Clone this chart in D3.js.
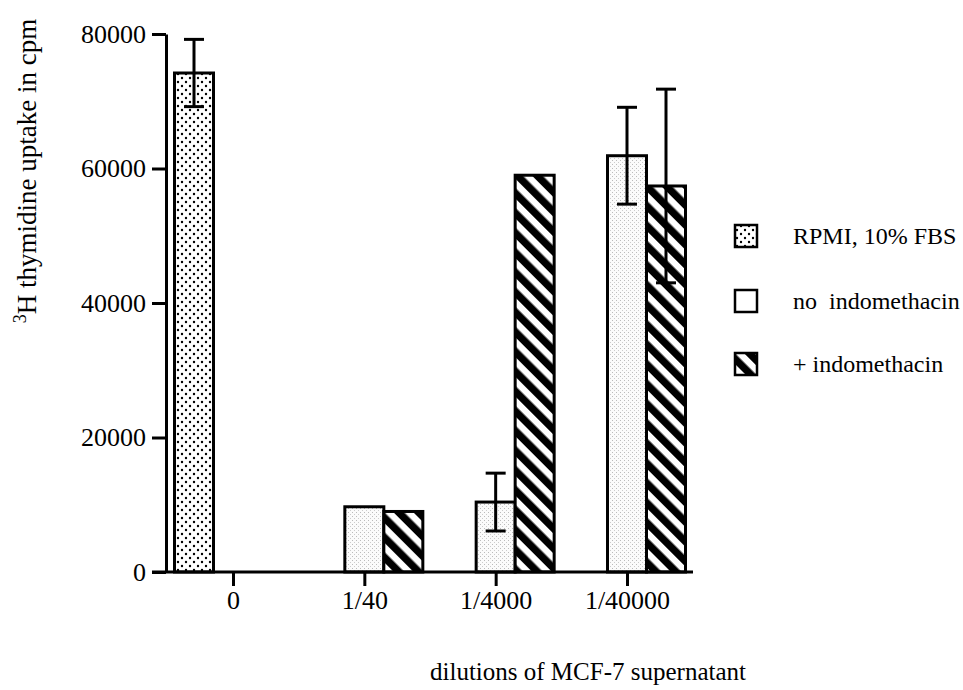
<!DOCTYPE html>
<html>
<head>
<meta charset="utf-8">
<script src="https://cdnjs.cloudflare.com/ajax/libs/d3/7.8.5/d3.min.js"></script>
<style>
  body { margin: 0; background: #fff; }
  text { font-family: "Liberation Serif", "DejaVu Serif", serif; fill: #000; }
</style>
</head>
<body>
<script>
// values
var dilutions = ['0', '1/40', '1/4000', '1/40000'];
var series = ['rpmi', 'noIndo', 'indo'];
var seriesLabels = ['RPMI, 10% FBS', 'no\u00a0 indomethacin', '+ indomethacin'];
var rpmi = [74200, null, null, null];
var rpmiErr = [5000, null, null, null];
var noIndo = [null, 9700, 10400, 61900];
var noIndoErr = [null, 0, 4300, 7200];
var indo = [null, 9000, 59000, 57400];
var indoErr = [null, 0, 0, 14400];
var yTicks = [0, 20000, 40000, 60000, 80000];

var width = 963, height = 690;
var plotL = 166, plotR = 693, plotT = 34, plotB = 572;

var svg = d3.select('body').append('svg')
  .attr('width', width).attr('height', height);

var defs = svg.append('defs');

// dotted fill for RPMI
var pDots = defs.append('pattern').attr('id', 'dots')
  .attr('patternUnits', 'userSpaceOnUse').attr('width', 8).attr('height', 8);
pDots.append('rect').attr('width', 8).attr('height', 8).attr('fill', '#fff');
pDots.append('circle').attr('cx', 2).attr('cy', 2).attr('r', 1.2).attr('fill', '#000');
pDots.append('circle').attr('cx', 6).attr('cy', 6).attr('r', 1.2).attr('fill', '#000');

// light stipple for no indomethacin
var pGrey = defs.append('pattern').attr('id', 'grey')
  .attr('patternUnits', 'userSpaceOnUse').attr('width', 4).attr('height', 4);
pGrey.append('rect').attr('width', 4).attr('height', 4).attr('fill', '#fbfbfb');
pGrey.append('rect').attr('x', 0).attr('y', 0).attr('width', 1).attr('height', 1).attr('fill', '#bbb');
pGrey.append('rect').attr('x', 2).attr('y', 2).attr('width', 1).attr('height', 1).attr('fill', '#ccc');

// back-slash stripes for + indomethacin
var pHatch = defs.append('pattern').attr('id', 'hatch')
  .attr('patternUnits', 'userSpaceOnUse').attr('width', 14).attr('height', 14)
  .attr('patternTransform', 'rotate(-45)');
pHatch.append('rect').attr('width', 14).attr('height', 14).attr('fill', '#fff');
pHatch.append('rect').attr('width', 7.5).attr('height', 14).attr('fill', '#000');

var fills = { rpmi: 'url(#dots)', noIndo: 'url(#grey)', indo: 'url(#hatch)' };
var legendFills = { rpmi: 'url(#dots)', noIndo: '#fff', indo: 'url(#hatch)' };

var y = d3.scaleLinear().domain([0, 80000]).range([plotB, plotT]);
var x = d3.scalePoint().domain(dilutions).range([233, 627]);
var bw = 39;
var xs = d3.scaleBand().domain(series).range([-1.5 * bw, 1.5 * bw]);

var rows = [];
dilutions.forEach(function(d, i) {
  [[rpmi, rpmiErr], [noIndo, noIndoErr], [indo, indoErr]].forEach(function(s, j) {
    if (s[0][i] != null)
      rows.push({ cat: d, key: series[j], value: s[0][i], err: s[1][i] });
  });
});

// bars
svg.selectAll('rect.bar')
  .data(rows)
  .enter().append('rect').attr('class', 'bar')
  .attr('x', function(d) { return x(d.cat) + xs(d.key); })
  .attr('width', xs.bandwidth())
  .attr('y', function(d) { return y(d.value); })
  .attr('height', function(d) { return y(0) - y(d.value); })
  .attr('fill', function(d) { return fills[d.key]; })
  .attr('stroke', '#000')
  .attr('stroke-width', 3);

// error bars
var eb = svg.selectAll('g.err')
  .data(rows.filter(function(d) { return d.err; }))
  .enter().append('g').attr('class', 'err')
  .attr('stroke', '#000').attr('stroke-width', 3);
function cx(d) { return x(d.cat) + xs(d.key) + xs.bandwidth() / 2; }
eb.append('line')
  .attr('x1', cx).attr('x2', cx)
  .attr('y1', function(d) { return y(d.value + d.err); })
  .attr('y2', function(d) { return y(d.value - d.err); });
eb.append('line')
  .attr('x1', function(d) { return cx(d) - 10; })
  .attr('x2', function(d) { return cx(d) + 10; })
  .attr('y1', function(d) { return y(d.value + d.err); })
  .attr('y2', function(d) { return y(d.value + d.err); });
eb.append('line')
  .attr('x1', function(d) { return cx(d) - 10; })
  .attr('x2', function(d) { return cx(d) + 10; })
  .attr('y1', function(d) { return y(d.value - d.err); })
  .attr('y2', function(d) { return y(d.value - d.err); });

// y axis
var yAxis = svg.append('g')
  .attr('transform', 'translate(' + plotL + ',0)')
  .call(d3.axisLeft(y).tickValues(yTicks).tickFormat(d3.format('d'))
    .tickSize(14).tickSizeOuter(0).tickPadding(6));
yAxis.selectAll('path, line').attr('stroke', '#000').attr('stroke-width', 3);
yAxis.selectAll('text').style('font-size', '26px').attr('font-family', null);

// x axis
var xAxis = svg.append('g')
  .attr('transform', 'translate(0,' + plotB + ')')
  .call(d3.axisBottom(x).tickSize(14).tickSizeOuter(0).tickPadding(5));
xAxis.select('.domain').remove();
xAxis.append('line')
  .attr('x1', plotL - 14).attr('x2', plotR)
  .attr('y1', 0).attr('y2', 0);
xAxis.selectAll('line').attr('stroke', '#000').attr('stroke-width', 3);
xAxis.selectAll('text').style('font-size', '26px').attr('font-family', null);

// axis titles
var yl = svg.append('text')
  .attr('transform', 'translate(36,171) rotate(-90)')
  .attr('text-anchor', 'middle')
  .style('font-size', '27px');
yl.append('tspan').attr('baseline-shift', 'super').style('font-size', '18px').text('3');
yl.append('tspan').text('H thymidine uptake in cpm');

svg.append('text')
  .attr('x', 588).attr('y', 680)
  .attr('text-anchor', 'middle')
  .style('font-size', '25px')
  .text('dilutions of MCF-7 supernatant');

// legend
var lg = svg.selectAll('g.legend')
  .data(series)
  .enter().append('g').attr('class', 'legend')
  .attr('transform', function(d, i) { return 'translate(735,' + [236, 301, 364][i] + ')'; });
lg.append('rect')
  .attr('x', 0).attr('y', -11).attr('width', 22).attr('height', 22)
  .attr('fill', function(d) { return legendFills[d]; })
  .attr('stroke', '#000').attr('stroke-width', 2.5);
lg.append('text')
  .attr('x', 58).attr('dy', '0.33em')
  .style('font-size', '24px')
  .text(function(d, i) { return seriesLabels[i]; });
</script>
</body>
</html>
